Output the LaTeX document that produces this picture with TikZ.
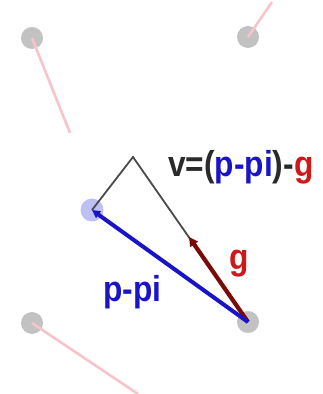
\documentclass[tikz,border=0pt]{standalone}
\usepackage{fontspec}
\newfontfamily\labf[FakeStretch=0.88]{Liberation Sans}
\usetikzlibrary{arrows.meta}
\definecolor{pinkl}{HTML}{F8C4CC}
\definecolor{dotgray}{HTML}{C2C2C2}
\definecolor{dotblue}{HTML}{BCC0F4}
\definecolor{vblue}{HTML}{1A14C8}
\definecolor{gred}{HTML}{D01818}
\definecolor{darkred}{HTML}{7A0A0A}
\definecolor{txtgray}{HTML}{2A2A2A}
\begin{document}
\begin{tikzpicture}[x=1pt,y=1pt,
  ball/.style={circle,fill=dotgray,minimum size=22pt,inner sep=0pt},
  blueball/.style={circle,fill=dotblue,minimum size=23pt,inner sep=0pt},
  spring/.style={pinkl,line width=2.6pt},
  lab/.style={font=\labf\bfseries\fontsize{36}{36}\selectfont,inner sep=0pt,anchor=base west}]
\useasboundingbox (0,0) rectangle (322,394);
\fill[white] (0,0) rectangle (322,394);
% springs
\coordinate (tle) at (70,261);
\coordinate (tre) at (272,392);
\coordinate (ble) at (138,0);
\node[ball] (tl) at (32,356) {};
\node[ball] (tr) at (248,357) {};
\node[ball] (bl) at (32,71) {};
\node[ball] (br) at (248,72) {};
\node[blueball] (pi) at (92,184) {};
\draw[spring] (tl.center) -- (tle);
\draw[spring] (tr.center) -- (tre);
\draw[spring] (bl.center) -- (ble);
% v triangle
\coordinate (apex) at (133,237);
\draw[txtgray!85,line width=1.8pt] (pi.center) -- (apex) -- (br.center);
% g arrow
\coordinate (gtip) at (189,157);
\draw[darkred,line width=4.2pt,-{Triangle[length=9pt,width=9pt]}] (br.center) -- (gtip);
% p-pi arrow
\draw[vblue,line width=4pt,-{Triangle[length=8pt,width=8pt]}] (br.center) -- (pi.center);
% labels
\node[lab] (vlab) at (168,217) {\textcolor{txtgray}{v=(}\textcolor{vblue}{p-pi}\textcolor{txtgray}{)-}\textcolor{gred}{g}};
\node[lab,gred] (glab) at (229,124) {g};
\node[lab,vblue] (plab) at (103,92) {p-pi};
\end{tikzpicture}
\end{document}
